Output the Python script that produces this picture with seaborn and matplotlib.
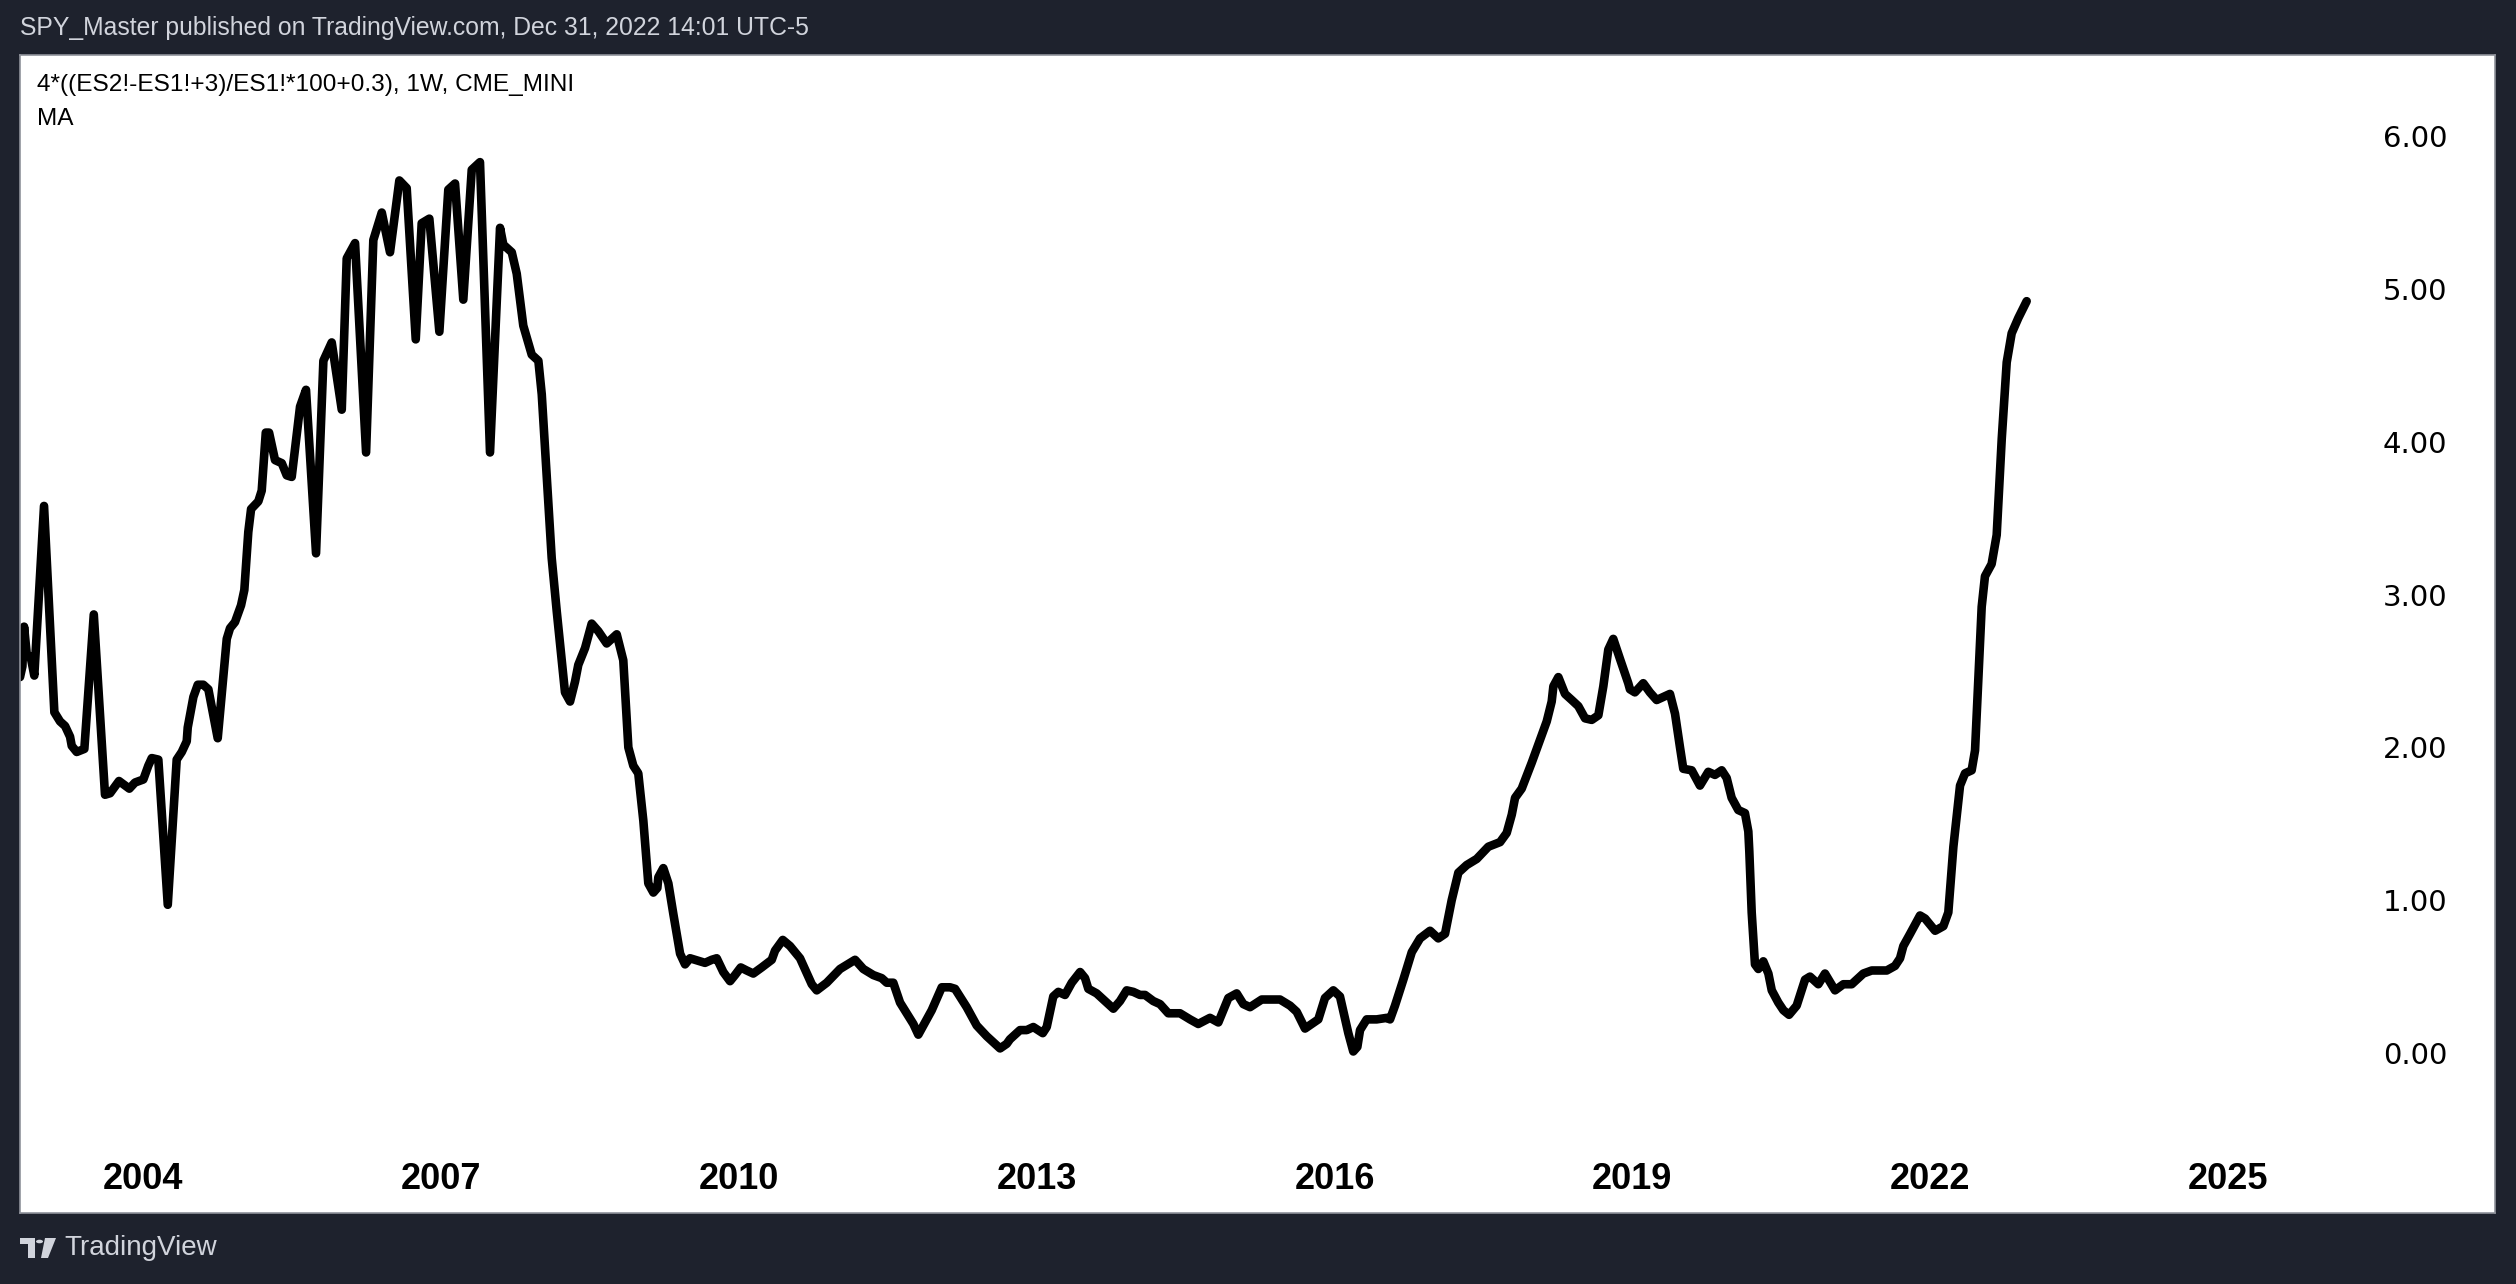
import matplotlib
matplotlib.use("Agg")
import matplotlib.pyplot as plt
import seaborn as sns
from matplotlib.patches import Polygon, Circle, Rectangle

# canvas size in pixels
W, H = 2516, 1284

# weekly spread series (decimal year, value)
years = [
    2002.763, 2002.787, 2002.804, 2002.831, 2002.871, 2002.907, 2003.005, 2003.109, 2003.166, 2003.217,
    2003.267, 2003.284, 2003.334, 2003.411, 2003.506, 2003.619, 2003.670, 2003.760, 2003.864, 2003.921,
    2004.005, 2004.055, 2004.090, 2004.156, 2004.251, 2004.341, 2004.392, 2004.442, 2004.452, 2004.509,
    2004.553, 2004.609, 2004.660, 2004.754, 2004.845, 2004.878, 2004.928, 2004.989, 2005.022, 2005.062,
    2005.090, 2005.163, 2005.197, 2005.238, 2005.271, 2005.331, 2005.399, 2005.449, 2005.499, 2005.583,
    2005.643, 2005.744, 2005.818, 2005.902, 2006.003, 2006.053, 2006.137, 2006.248, 2006.321, 2006.406,
    2006.489, 2006.583, 2006.657, 2006.748, 2006.808, 2006.885, 2006.986, 2007.076, 2007.144, 2007.227,
    2007.312, 2007.395, 2007.496, 2007.597, 2007.630, 2007.715, 2007.765, 2007.831, 2007.916, 2007.983,
    2008.017, 2008.067, 2008.117, 2008.168, 2008.251, 2008.302, 2008.352, 2008.385, 2008.453, 2008.520,
    2008.587, 2008.671, 2008.772, 2008.838, 2008.889, 2008.939, 2008.989, 2009.040, 2009.090, 2009.141,
    2009.181, 2009.191, 2009.241, 2009.292, 2009.342, 2009.410, 2009.460, 2009.510, 2009.560, 2009.661,
    2009.729, 2009.779, 2009.845, 2009.913, 2009.963, 2010.021, 2010.081, 2010.147, 2010.232, 2010.333,
    2010.366, 2010.444, 2010.517, 2010.618, 2010.736, 2010.786, 2010.887, 2011.021, 2011.121, 2011.172,
    2011.255, 2011.356, 2011.440, 2011.491, 2011.557, 2011.625, 2011.692, 2011.759, 2011.809, 2011.876,
    2011.944, 2012.045, 2012.128, 2012.179, 2012.296, 2012.397, 2012.498, 2012.632, 2012.699, 2012.732,
    2012.833, 2012.901, 2012.967, 2013.062, 2013.102, 2013.168, 2013.219, 2013.286, 2013.354, 2013.438,
    2013.488, 2013.521, 2013.605, 2013.689, 2013.773, 2013.840, 2013.907, 2013.974, 2014.041, 2014.092,
    2014.175, 2014.243, 2014.326, 2014.444, 2014.545, 2014.628, 2014.746, 2014.830, 2014.931, 2015.015,
    2015.082, 2015.149, 2015.267, 2015.451, 2015.552, 2015.619, 2015.703, 2015.770, 2015.837, 2015.904,
    2015.988, 2016.055, 2016.139, 2016.189, 2016.230, 2016.257, 2016.324, 2016.425, 2016.526, 2016.559,
    2016.609, 2016.693, 2016.778, 2016.861, 2016.962, 2017.045, 2017.113, 2017.180, 2017.247, 2017.331,
    2017.432, 2017.549, 2017.667, 2017.734, 2017.785, 2017.818, 2017.885, 2017.986, 2018.070, 2018.137,
    2018.187, 2018.204, 2018.254, 2018.321, 2018.389, 2018.455, 2018.523, 2018.590, 2018.657, 2018.707,
    2018.757, 2018.807, 2018.874, 2018.958, 2018.975, 2019.025, 2019.109, 2019.176, 2019.244, 2019.311,
    2019.378, 2019.429, 2019.479, 2019.512, 2019.597, 2019.680, 2019.764, 2019.831, 2019.899, 2019.949,
    2019.999, 2020.066, 2020.133, 2020.167, 2020.177, 2020.201, 2020.234, 2020.268, 2020.318, 2020.369,
    2020.403, 2020.469, 2020.520, 2020.577, 2020.654, 2020.738, 2020.788, 2020.872, 2020.939, 2021.040,
    2021.124, 2021.208, 2021.325, 2021.410, 2021.561, 2021.644, 2021.695, 2021.728, 2021.796, 2021.896,
    2021.947, 2022.048, 2022.131, 2022.181, 2022.232, 2022.299, 2022.349, 2022.416, 2022.450, 2022.500,
    2022.517, 2022.550, 2022.617, 2022.668, 2022.719, 2022.769, 2022.819, 2022.886, 2022.970,
]
values = [
    2.46, 2.53, 2.79, 2.61, 2.59, 2.47, 3.58, 2.23, 2.17, 2.14,
    2.07, 2.01, 1.97, 1.99, 2.87, 1.69, 1.70, 1.78, 1.73, 1.77,
    1.79, 1.88, 1.93, 1.92, 0.97, 1.92, 1.97, 2.04, 2.13, 2.33,
    2.41, 2.41, 2.38, 2.06, 2.71, 2.78, 2.82, 2.93, 3.03, 3.41,
    3.56, 3.61, 3.68, 4.06, 4.06, 3.88, 3.86, 3.78, 3.77, 4.23,
    4.34, 3.27, 4.53, 4.65, 4.21, 5.20, 5.30, 3.93, 5.32, 5.50,
    5.24, 5.71, 5.66, 4.67, 5.43, 5.46, 4.72, 5.65, 5.69, 4.93,
    5.78, 5.83, 3.93, 5.40, 5.29, 5.24, 5.10, 4.76, 4.57, 4.53,
    4.31, 3.77, 3.24, 2.89, 2.36, 2.30, 2.43, 2.54, 2.65, 2.81,
    2.76, 2.68, 2.74, 2.57, 2.00, 1.88, 1.83, 1.52, 1.11, 1.05,
    1.08, 1.15, 1.21, 1.11, 0.91, 0.65, 0.58, 0.62, 0.61, 0.59,
    0.61, 0.62, 0.53, 0.47, 0.51, 0.56, 0.54, 0.52, 0.56, 0.61,
    0.67, 0.74, 0.70, 0.62, 0.45, 0.41, 0.46, 0.55, 0.59, 0.61,
    0.55, 0.51, 0.49, 0.46, 0.46, 0.33, 0.26, 0.19, 0.12, 0.20,
    0.28, 0.43, 0.43, 0.42, 0.30, 0.18, 0.11, 0.03, 0.06, 0.09,
    0.15, 0.15, 0.17, 0.13, 0.17, 0.37, 0.40, 0.38, 0.46, 0.53,
    0.49, 0.42, 0.39, 0.34, 0.29, 0.34, 0.41, 0.40, 0.38, 0.38,
    0.34, 0.32, 0.26, 0.26, 0.22, 0.19, 0.23, 0.20, 0.36, 0.39,
    0.32, 0.30, 0.35, 0.35, 0.31, 0.27, 0.16, 0.19, 0.22, 0.36,
    0.41, 0.37, 0.13, 0.01, 0.04, 0.15, 0.22, 0.22, 0.23, 0.22,
    0.31, 0.48, 0.66, 0.75, 0.80, 0.75, 0.78, 1.00, 1.18, 1.23,
    1.27, 1.35, 1.38, 1.44, 1.56, 1.67, 1.73, 1.90, 2.05, 2.17,
    2.30, 2.40, 2.46, 2.35, 2.31, 2.27, 2.19, 2.18, 2.21, 2.40,
    2.64, 2.71, 2.58, 2.42, 2.38, 2.36, 2.42, 2.36, 2.31, 2.33,
    2.35, 2.22, 2.00, 1.86, 1.85, 1.75, 1.84, 1.82, 1.85, 1.80,
    1.67, 1.59, 1.57, 1.45, 1.32, 0.92, 0.58, 0.55, 0.60, 0.52,
    0.41, 0.33, 0.28, 0.25, 0.31, 0.48, 0.50, 0.45, 0.52, 0.41,
    0.45, 0.45, 0.52, 0.54, 0.54, 0.57, 0.62, 0.70, 0.78, 0.90,
    0.88, 0.80, 0.83, 0.92, 1.35, 1.75, 1.83, 1.85, 1.98, 2.69,
    2.92, 3.12, 3.20, 3.39, 4.02, 4.52, 4.71, 4.81, 4.92,
]

year_ticks = [2004, 2007, 2010, 2013, 2016, 2019, 2022, 2025]
price_ticks = [0, 1, 2, 3, 4, 5, 6]

header = "SPY_Master published on TradingView.com, Dec 31, 2022 14:01 UTC-5"
series_name = "4*((ES2!-ES1!+3)/ES1!*100+0.3), 1W, CME_MINI"
study_name = "MA"
brand = "TradingView"

bg = "#1e222d"
light = "#d1d4dc"
ink = "#000000"

sns.set_style("white")
plt.rcParams["font.family"] = ["Liberation Sans", "DejaVu Sans"]


def fx(px):
    return px / W


def fy(py):
    return 1 - py / H


fig = plt.figure(figsize=(W / 100, H / 100), dpi=100, facecolor=bg)
ax = fig.add_axes([fx(20), fy(1213), fx(2495 - 20), (1213 - 55) / H])
ax.set_facecolor("white")

sns.lineplot(x=years, y=values, ax=ax, color=ink, linewidth=6.2,
             sort=False, estimator=None, solid_joinstyle="round")

ax.set_xlim(2002.763, 2027.686)
ax.set_ylim(-1.047, 6.531)
ax.set_xlabel("")
ax.set_ylabel("")

ax.set_xticks(year_ticks)
ax.set_xticklabels([str(y) for y in year_ticks], fontsize=26, fontweight="bold", color=ink)
ax.set_yticks(price_ticks)
ax.set_yticklabels([f"{v:.2f}" for v in price_ticks], fontsize=21, color=ink,
                   family="DejaVu Sans")
ax.tick_params(axis="x", length=0, pad=-37)
ax.tick_params(axis="y", length=0, left=False, right=False,
               labelleft=False, labelright=True, pad=-80.6)
ax.grid(False)
for s in ax.spines.values():
    s.set_color("#8f929b")
    s.set_linewidth(1.2)

# header and legend texts
fig.text(fx(20), fy(28), header, color=light, fontsize=17.8, va="center", ha="left")
fig.text(fx(37), fy(85), series_name, color=ink, fontsize=17.6, va="center", ha="left")
fig.text(fx(37), fy(119), study_name, color=ink, fontsize=17.6, va="center", ha="left")

# footer logo and brand name
logo = [
    Rectangle((fx(20), fy(1244)), fx(15), 6 / H),
    Rectangle((fx(28), fy(1258)), fx(7), 20 / H),
    Circle((fx(39.5), fy(1241.5)), fx(3.5)),
    Polygon([(fx(41), fy(1258)), (fx(48), fy(1258)), (fx(56), fy(1238)), (fx(45), fy(1238))]),
]
for p in logo:
    p.set_transform(fig.transFigure)
    p.set_facecolor(light)
    p.set_edgecolor("none")
    fig.add_artist(p)
fig.text(fx(64), fy(1248), brand, color=light, fontsize=20, va="center", ha="left")

fig.savefig("out.png", dpi=100, facecolor=bg)
